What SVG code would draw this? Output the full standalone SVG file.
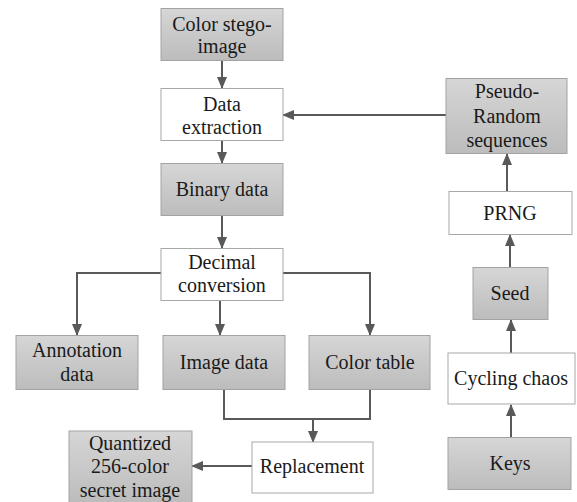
<svg xmlns="http://www.w3.org/2000/svg" width="577" height="502" viewBox="0 0 577 502">
<defs>
<linearGradient id="g" x1="0" y1="0" x2="0" y2="1">
<stop offset="0" stop-color="#d6d6d6"/>
<stop offset="1" stop-color="#bcbcbc"/>
</linearGradient>
<marker id="a" markerWidth="12" markerHeight="10" refX="11" refY="5" orient="auto" markerUnits="userSpaceOnUse">
<path d="M0,0 L12,5 L0,10 Z" fill="#595959"/>
</marker>
<style>
.gray{fill:url(#g);stroke:#a3a3a3;stroke-width:1}
.white{fill:#ffffff;stroke:#a8a8a8;stroke-width:1}
text{font-family:"Liberation Serif","Times New Roman",serif;font-size:20px;fill:#1a1a1a;text-anchor:middle}
.c{fill:none;stroke:#595959;stroke-width:2;marker-end:url(#a)}
.l{fill:none;stroke:#595959;stroke-width:2}
</style>
</defs>
<rect width="577" height="502" fill="#ffffff"/>
<g id="connectors">
<path class="c" d="M222,61 V88"/>
<path class="c" d="M222,140 V163"/>
<path class="c" d="M222,215 V248"/>
<path class="c" d="M446,115 H283"/>
<path class="c" d="M507,192 V154"/>
<path class="c" d="M510,267 V235"/>
<path class="c" d="M511,353 V320"/>
<path class="c" d="M511,437 V405"/>
<path class="c" d="M161,273 H77 V335"/>
<path class="c" d="M283,273 H370 V335"/>
<path class="c" d="M220,300 V335"/>
<path class="l" d="M224,389 V419 H370 V389"/>
<path class="c" d="M313,419 V442"/>
<path class="c" d="M252,466 H192"/>
</g>
<g id="color-stego-image"><rect class="gray" x="161" y="8.5" width="122" height="52"/><text x="222" y="31">Color stego-</text><text x="222" y="53">image</text></g>
<g id="data-extraction"><rect class="white" x="161" y="88.5" width="122" height="52"/><text x="222" y="111">Data</text><text x="222" y="134">extraction</text></g>
<g id="binary-data"><rect class="gray" x="161" y="163.5" width="122" height="52"/><text x="222" y="196">Binary data</text></g>
<g id="decimal-conversion"><rect class="white" x="161" y="248.5" width="122" height="52"/><text x="222" y="269">Decimal</text><text x="222" y="292">conversion</text></g>
<g id="annotation-data"><rect class="gray" x="16" y="335.5" width="122" height="54"/><text x="77" y="357">Annotation</text><text x="77" y="381">data</text></g>
<g id="image-data"><rect class="gray" x="163" y="335.5" width="122" height="54"/><text x="224" y="369">Image data</text></g>
<g id="color-table"><rect class="gray" x="309" y="335.5" width="121" height="54"/><text x="370" y="369">Color table</text></g>
<g id="replacement"><rect class="white" x="252" y="442" width="121" height="51"/><text x="312" y="473">Replacement</text></g>
<g id="quantized"><rect class="gray" x="69" y="431" width="123" height="72"/><text x="130" y="450">Quantized</text><text x="130" y="473">256-color</text><text x="130" y="497">secret image</text></g>
<g id="pseudo-random"><rect class="gray" x="446" y="78.5" width="121" height="75"/><text x="507" y="98">Pseudo-</text><text x="507" y="123">Random</text><text x="507" y="147">sequences</text></g>
<g id="prng"><rect class="white" x="449" y="191.5" width="123" height="43"/><text x="510" y="220">PRNG</text></g>
<g id="seed"><rect class="gray" x="473" y="267.5" width="75" height="52"/><text x="510" y="300">Seed</text></g>
<g id="cycling-chaos"><rect class="white" x="448" y="353" width="127" height="51"/><text x="511" y="385">Cycling chaos</text></g>
<g id="keys"><rect class="gray" x="448" y="437.5" width="123" height="52"/><text x="510" y="470">Keys</text></g>
</svg>
